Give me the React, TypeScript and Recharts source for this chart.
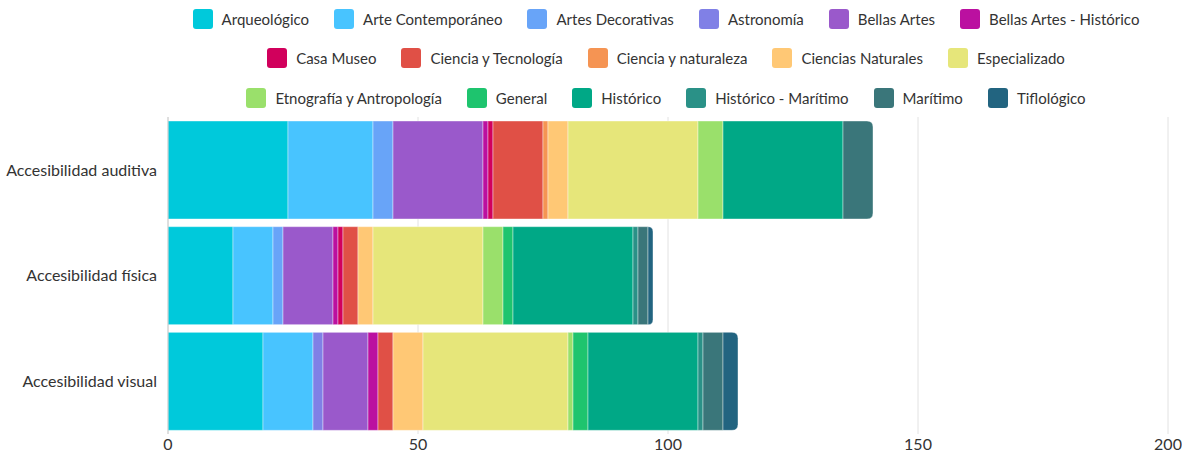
import React from "react";
import { Bar, BarChart, CartesianGrid, Legend, XAxis, YAxis } from "recharts";

const categories = ["Accesibilidad auditiva", "Accesibilidad física", "Accesibilidad visual"];

const seriesNames = [
  "Arqueológico",
  "Arte Contemporáneo",
  "Artes Decorativas",
  "Astronomía",
  "Bellas Artes",
  "Bellas Artes - Histórico",
  "Casa Museo",
  "Ciencia y Tecnología",
  "Ciencia y naturaleza",
  "Ciencias Naturales",
  "Especializado",
  "Etnografía y Antropología",
  "General",
  "Histórico",
  "Histórico - Marítimo",
  "Marítimo",
  "Tiflológico",
];

const seriesColors = [
  "#00c9db",
  "#48c4ff",
  "#68a4f8",
  "#8080e6",
  "#9a59cb",
  "#bb10a0",
  "#d1005c",
  "#e05046",
  "#f59453",
  "#ffc875",
  "#e6e67a",
  "#9ae06b",
  "#1ec46e",
  "#00a886",
  "#2a9187",
  "#3a767a",
  "#226480",
];

// values per series: [auditiva, física, visual]
const arqueologico = [24, 13, 19];
const arteContemporaneo = [17, 8, 10];
const artesDecorativas = [4, 2, 0];
const astronomia = [0, 0, 2];
const bellasArtes = [18, 10, 9];
const bellasArtesHistorico = [1, 1, 2];
const casaMuseo = [1, 1, 0];
const cienciaTecnologia = [10, 3, 3];
const cienciaNaturaleza = [1, 0, 0];
const cienciasNaturales = [4, 3, 6];
const especializado = [26, 22, 29];
const etnografia = [5, 4, 1];
const general = [0, 2, 3];
const historico = [24, 24, 22];
const historicoMaritimo = [0, 1, 1];
const maritimo = [6, 2, 4];
const tiflologico = [0, 1, 3];

const seriesValues = [
  arqueologico,
  arteContemporaneo,
  artesDecorativas,
  astronomia,
  bellasArtes,
  bellasArtesHistorico,
  casaMuseo,
  cienciaTecnologia,
  cienciaNaturaleza,
  cienciasNaturales,
  especializado,
  etnografia,
  general,
  historico,
  historicoMaritimo,
  maritimo,
  tiflologico,
];

const xTicks = [0, 50, 100, 150, 200];

const legendRows = [
  [0, 1, 2, 3, 4, 5],
  [6, 7, 8, 9, 10],
  [11, 12, 13, 14, 15, 16],
];

const data = categories.map((name, i) => {
  const row: Record<string, any> = { name };
  seriesNames.forEach((s, j) => {
    row[s] = seriesValues[j][i];
  });
  return row;
});

const FONT = "Lato, 'Open Sans', sans-serif";

const SegmentShape = (props: any) => {
  const { x, y, width, height, fill, payload, dataKey } = props;
  if (!width || width <= 0) return null;
  let last = "";
  seriesNames.forEach((s) => {
    if (payload && payload[s] > 0) last = s;
  });
  if (dataKey === last) {
    const r = Math.min(6, width);
    const d = `M${x},${y} L${x + width - r},${y} Q${x + width},${y} ${x + width},${y + r} L${x + width},${y + height - r} Q${x + width},${y + height} ${x + width - r},${y + height} L${x},${y + height} Z`;
    return <path d={d} fill={fill} stroke="#ffffff" strokeOpacity={0.4} strokeWidth={1} />;
  }
  return <rect x={x} y={y} width={width} height={height} fill={fill} stroke="#ffffff" strokeOpacity={0.4} strokeWidth={1} />;
};

const LegendContent = () => (
  <div
    style={{
      height: 117,
      fontFamily: FONT,
      fontSize: 15,
      color: "#333",
      paddingLeft: 178,
      paddingRight: 14,
      boxSizing: "border-box",
      marginTop: -1,
    }}
  >
    {legendRows.map((row, ri) => (
      <div key={ri} style={{ display: "flex", justifyContent: "center", alignItems: "center", height: 39.5 }}>
        {row.map((idx) => (
          <div key={idx} style={{ display: "flex", alignItems: "center", margin: "0 12.5px" }}>
            <span
              style={{
                display: "inline-block",
                width: 20,
                height: 20,
                borderRadius: 3,
                background: seriesColors[idx],
                marginRight: 9,
              }}
            />
            <span style={{ whiteSpace: "nowrap" }}>{seriesNames[idx]}</span>
          </div>
        ))}
      </div>
    ))}
  </div>
);

export default function App() {
  return (
    <div style={{ position: "absolute", left: 0, top: 0, width: 1182, height: 454, background: "#fff" }}>
      <BarChart
        width={1182}
        height={454}
        data={data}
        layout="vertical"
        barCategoryGap={4}
        margin={{ top: 0, right: 14, left: 0, bottom: 0 }}
      >
        <CartesianGrid horizontal={false} stroke="#e2e2e2" />
        <XAxis
          type="number"
          domain={[0, 200]}
          ticks={xTicks}
          axisLine={false}
          tickLine={false}
          tickSize={0}
          tickMargin={5}
          height={20}
          tick={{ fill: "#333", fontSize: 16, fontFamily: FONT }}
        />
        <YAxis
          type="category"
          dataKey="name"
          width={168}
          axisLine={{ stroke: "#cccccc" }}
          tickLine={false}
          tickSize={6}
          tickMargin={5}
          tick={{ fill: "#333", fontSize: 16, fontFamily: FONT }}
        />
        <Legend verticalAlign="top" align="center" height={117} content={<LegendContent />} />
        {seriesNames.map((s, j) => (
          <Bar
            key={s}
            dataKey={s}
            stackId="a"
            fill={seriesColors[j]}
            shape={<SegmentShape />}
            isAnimationActive={false}
          />
        ))}
      </BarChart>
    </div>
  );
}
